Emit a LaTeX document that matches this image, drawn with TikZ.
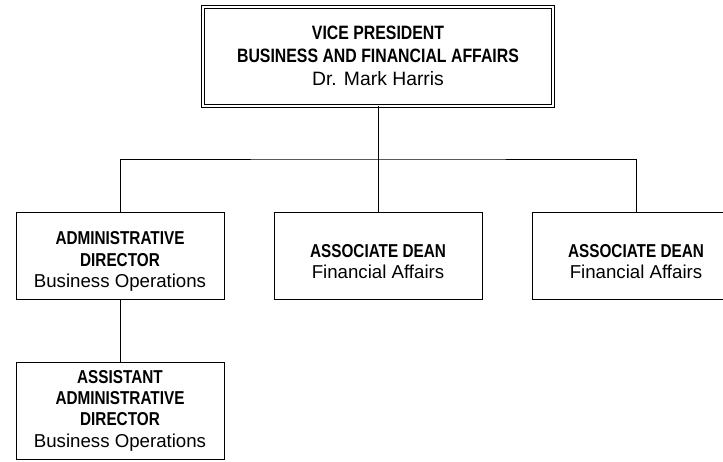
\documentclass[tikz,border=0pt]{standalone}
\usepackage{fontspec}
\setmainfont{Liberation Sans}
\newfontfamily\headfont{Liberation Sans}[FakeStretch=0.82]
\newcommand{\hd}[1]{{\headfont\bfseries #1}}
\newcommand{\lowr}{\rule{0pt}{19pt}}
\begin{document}
\begin{tikzpicture}[x=0.75pt, y=-0.75pt,
    orgbox/.style={draw, line width=0.75pt, rectangle, align=center,
      font=\fontsize{14pt}{16pt}\selectfont, inner sep=0pt},
    vpbox/.style={orgbox, double, double distance=1.5pt, line width=0.75pt,
      font=\fontsize{14.5pt}{17.5pt}\selectfont,
      minimum width=350pt*0.75, minimum height=99pt*0.75},
    unitbox/.style={orgbox, minimum width=208pt*0.75, minimum height=87pt*0.75},
    link/.style={line width=0.75pt}]
  \clip (0, 0) rectangle (723, 461);
  \node[vpbox] (vp) at (378, 56) {\hd{VICE PRESIDENT}\\ \hd{BUSINESS AND FINANCIAL AFFAIRS}\\ Dr. Mark Harris};
  \node[unitbox] (admdir) at (120, 255.5) {\lowr\hd{ADMINISTRATIVE}\\ \hd{DIRECTOR}\\ Business Operations};
  \node[unitbox] (deanA) at (378, 255.5) {\lowr\hd{ASSOCIATE DEAN}\\ Financial Affairs};
  \node[unitbox] (deanB) at (636, 255.5) {\lowr\hd{ASSOCIATE DEAN}\\ Financial Affairs};
  \node[unitbox, minimum height=97pt*0.75] (asstdir) at (120, 410.5) {\hd{ASSISTANT}\\ \hd{ADMINISTRATIVE}\\ \hd{DIRECTOR}\\ Business Operations};
  \coordinate (bar) at (378, 159);
  \draw[link] (vp.south) -- (deanA.north);
  \draw[link] (admdir.north) |- (bar) -| (deanB.north);
  \draw[link] (admdir.south) -- (asstdir.north);
\end{tikzpicture}
\end{document}
